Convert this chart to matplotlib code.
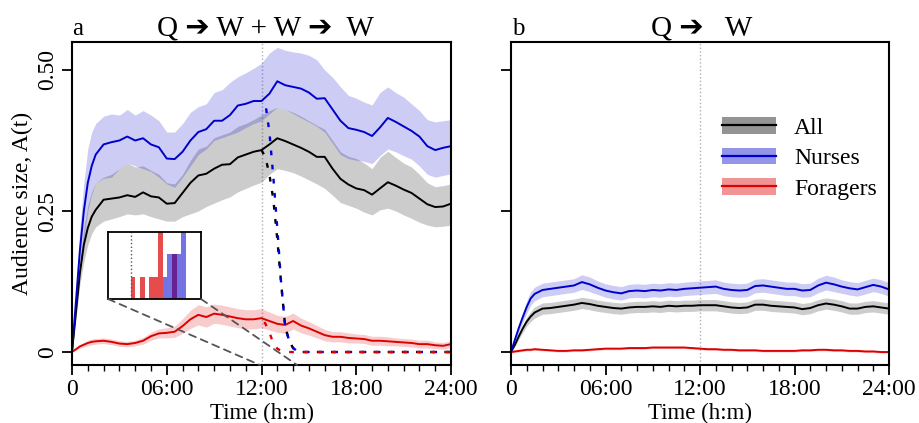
import numpy as np
import matplotlib.pyplot as plt
from matplotlib.patches import Patch, ConnectionPatch
from matplotlib.lines import Line2D
from matplotlib.ticker import MultipleLocator

plt.rcParams['font.family'] = ['Liberation Serif', 'DejaVu Sans']

# time grid (hours)
hours = [0, 0.25, 0.5, 0.75, 1, 1.25, 1.5,
         2, 2.5, 3, 3.5, 4, 4.5, 5, 5.5, 6, 6.5,
         7, 7.5, 8, 8.5, 9, 9.5, 10, 10.5, 11, 11.5,
         12, 12.5, 13, 13.5, 14, 14.5, 15, 15.5, 16, 16.5,
         17, 17.5, 18, 18.5, 19, 19.5, 20, 20.5, 21, 21.5,
         22, 22.5, 23, 23.5, 24]

# panel a : Q -> W + W -> W
all_a = [0, 0.07, 0.14, 0.19, 0.22, 0.24, 0.252,
         0.270, 0.272, 0.274, 0.278, 0.275, 0.283, 0.276, 0.274, 0.263, 0.264,
         0.282, 0.300, 0.313, 0.316, 0.325, 0.332, 0.333, 0.345, 0.350, 0.355,
         0.358, 0.368, 0.379, 0.374, 0.368, 0.362, 0.355, 0.346, 0.346, 0.325,
         0.307, 0.297, 0.290, 0.287, 0.279, 0.290, 0.301, 0.295, 0.288, 0.282,
         0.272, 0.262, 0.257, 0.258, 0.263]
all_a_lo = [0, 0.06, 0.12, 0.16, 0.19, 0.21, 0.222,
            0.232, 0.236, 0.240, 0.245, 0.243, 0.245, 0.240, 0.236, 0.232, 0.232,
            0.240, 0.245, 0.250, 0.258, 0.264, 0.270, 0.275, 0.284, 0.290, 0.296,
            0.301, 0.315, 0.325, 0.322, 0.318, 0.312, 0.305, 0.298, 0.290, 0.278,
            0.265, 0.260, 0.255, 0.248, 0.243, 0.252, 0.255, 0.250, 0.243, 0.237,
            0.230, 0.225, 0.222, 0.223, 0.225]
all_a_hi = [0, 0.08, 0.16, 0.22, 0.26, 0.285, 0.300,
            0.310, 0.315, 0.325, 0.335, 0.328, 0.330, 0.322, 0.315, 0.300, 0.298,
            0.315, 0.340, 0.360, 0.365, 0.380, 0.385, 0.390, 0.400, 0.405, 0.412,
            0.420, 0.428, 0.434, 0.430, 0.425, 0.418, 0.410, 0.402, 0.395, 0.375,
            0.355, 0.347, 0.343, 0.335, 0.325, 0.345, 0.356, 0.345, 0.335, 0.328,
            0.315, 0.300, 0.293, 0.295, 0.298]

nurses_a = [0, 0.09, 0.18, 0.25, 0.30, 0.33, 0.35,
            0.368, 0.372, 0.375, 0.382, 0.375, 0.379, 0.368, 0.363, 0.343, 0.342,
            0.355, 0.375, 0.390, 0.395, 0.410, 0.410, 0.420, 0.437, 0.440, 0.445,
            0.445, 0.458, 0.480, 0.473, 0.470, 0.467, 0.460, 0.449, 0.450, 0.430,
            0.410, 0.397, 0.394, 0.390, 0.383, 0.398, 0.415, 0.408, 0.400, 0.392,
            0.382, 0.365, 0.358, 0.362, 0.365]
nurses_a_lo = [0, 0.07, 0.14, 0.20, 0.25, 0.28, 0.30,
               0.308, 0.310, 0.325, 0.335, 0.330, 0.325, 0.320, 0.310, 0.298, 0.292,
               0.310, 0.330, 0.350, 0.360, 0.375, 0.380, 0.385, 0.390, 0.398, 0.405,
               0.410, 0.422, 0.434, 0.430, 0.423, 0.415, 0.408, 0.400, 0.390, 0.370,
               0.350, 0.343, 0.340, 0.338, 0.334, 0.348, 0.360, 0.355, 0.348, 0.342,
               0.330, 0.315, 0.310, 0.313, 0.316]
nurses_a_hi = [0, 0.11, 0.22, 0.30, 0.36, 0.39, 0.405,
               0.418, 0.422, 0.420, 0.430, 0.420, 0.428, 0.420, 0.410, 0.390, 0.390,
               0.405, 0.425, 0.435, 0.440, 0.460, 0.465, 0.478, 0.488, 0.495, 0.503,
               0.512, 0.530, 0.540, 0.535, 0.532, 0.530, 0.526, 0.518, 0.500, 0.487,
               0.470, 0.455, 0.450, 0.443, 0.438, 0.460, 0.470, 0.460, 0.452, 0.440,
               0.428, 0.412, 0.408, 0.410, 0.412]

foragers_a = [0, 0.005, 0.010, 0.013, 0.016, 0.018, 0.019,
              0.020, 0.018, 0.015, 0.014, 0.016, 0.020, 0.028, 0.033, 0.034, 0.036,
              0.046, 0.058, 0.066, 0.062, 0.068, 0.066, 0.063, 0.060, 0.058, 0.058,
              0.060, 0.055, 0.050, 0.048, 0.055, 0.047, 0.042, 0.036, 0.030, 0.027,
              0.027, 0.025, 0.024, 0.023, 0.020, 0.020, 0.019, 0.018, 0.017, 0.016,
              0.014, 0.014, 0.012, 0.011, 0.014]
foragers_a_err = [0, 0.002, 0.003, 0.004, 0.005, 0.005, 0.005,
                  0.005, 0.005, 0.005, 0.005, 0.005, 0.006, 0.007, 0.008, 0.009, 0.010,
                  0.013, 0.016, 0.018, 0.018, 0.017, 0.017, 0.017, 0.017, 0.017, 0.017,
                  0.017, 0.016, 0.015, 0.015, 0.014, 0.013, 0.012, 0.011, 0.010, 0.009,
                  0.009, 0.009, 0.008, 0.008, 0.008, 0.008, 0.008, 0.007, 0.007, 0.007,
                  0.007, 0.007, 0.006, 0.006, 0.006]

# removal of the focal workers: dashed decay after 12:00
drop_hours = [12, 12.25, 12.5, 12.75, 13, 13.25, 13.5, 13.75, 14, 14.25, 14.5, 24]
all_drop = [0.358, 0.345, 0.315, 0.27, 0.20, 0.12, 0.045, 0.02, 0.007, 0.002, 0, 0]
nurses_drop = [0.445, 0.44, 0.39, 0.31, 0.22, 0.12, 0.045, 0.02, 0.007, 0.002, 0, 0]
foragers_drop = [0.06, 0.05, 0.035, 0.015, 0.006, 0.002, 0, 0, 0, 0, 0, 0]

# inset histogram: 5-min bins starting 12:00
bin_starts = [12 + k / 12 for k in range(12)]
foragers_hist = [1, 0, 1, 0, 1, 1, 3, 0, 0, 2, 0, 0]
nurses_hist = [0, 0, 0, 0, 0, 0, 0, 1, 2, 2, 2, 3]

# panel b : Q -> W
all_b = [0, 0.013, 0.028, 0.042, 0.054, 0.063, 0.070,
         0.077, 0.078, 0.080, 0.082, 0.084, 0.087, 0.085, 0.082, 0.080, 0.078,
         0.077, 0.079, 0.080, 0.080, 0.081, 0.080, 0.082, 0.081, 0.082, 0.082,
         0.083, 0.083, 0.083, 0.081, 0.079, 0.078, 0.079, 0.084, 0.084, 0.082,
         0.081, 0.080, 0.079, 0.076, 0.078, 0.083, 0.086, 0.084, 0.081, 0.077,
         0.077, 0.080, 0.081, 0.079, 0.077]
all_b_err = [0, 0.003, 0.005, 0.007, 0.008, 0.009, 0.010,
             0.010, 0.010, 0.010, 0.010, 0.010, 0.010, 0.010, 0.010, 0.010, 0.010,
             0.010, 0.010, 0.010, 0.010, 0.010, 0.010, 0.010, 0.010, 0.010, 0.010,
             0.010, 0.010, 0.010, 0.010, 0.010, 0.010, 0.010, 0.010, 0.010, 0.010,
             0.010, 0.010, 0.010, 0.010, 0.010, 0.010, 0.010, 0.010, 0.010, 0.010,
             0.010, 0.010, 0.010, 0.010, 0.010]
nurses_b = [0, 0.022, 0.043, 0.062, 0.080, 0.095, 0.103,
            0.110, 0.112, 0.114, 0.116, 0.118, 0.124, 0.120, 0.114, 0.109, 0.106,
            0.104, 0.108, 0.109, 0.108, 0.110, 0.109, 0.111, 0.110, 0.112, 0.113,
            0.114, 0.115, 0.116, 0.112, 0.110, 0.109, 0.110, 0.117, 0.118, 0.116,
            0.114, 0.112, 0.112, 0.109, 0.110, 0.118, 0.123, 0.120, 0.116, 0.113,
            0.111, 0.115, 0.119, 0.116, 0.111]
nurses_b_err = [0, 0.004, 0.007, 0.009, 0.011, 0.012, 0.012,
                0.012, 0.012, 0.012, 0.012, 0.012, 0.013, 0.013, 0.012, 0.012, 0.012,
                0.012, 0.012, 0.012, 0.012, 0.012, 0.012, 0.012, 0.012, 0.012, 0.012,
                0.012, 0.012, 0.012, 0.012, 0.012, 0.012, 0.012, 0.012, 0.012, 0.012,
                0.012, 0.012, 0.012, 0.012, 0.012, 0.013, 0.013, 0.013, 0.012, 0.012,
                0.012, 0.012, 0.012, 0.012, 0.012]
foragers_b = [0, 0.001, 0.002, 0.003, 0.004, 0.004, 0.005,
              0.004, 0.003, 0.002, 0.002, 0.003, 0.003, 0.004, 0.005, 0.006, 0.006,
              0.006, 0.007, 0.007, 0.007, 0.008, 0.008, 0.008, 0.008, 0.008, 0.007,
              0.006, 0.005, 0.005, 0.004, 0.004, 0.003, 0.003, 0.003, 0.002, 0.002,
              0.002, 0.002, 0.002, 0.003, 0.003, 0.004, 0.004, 0.003, 0.003, 0.002,
              0.002, 0.001, 0.001, 0.000, 0.000]
foragers_b_err = [0.002] * len(hours)

time_ticks = [0, 6, 12, 18, 24]
time_labels = ['0', '06:00', '12:00', '18:00', '24:00']
series_names = ['All', 'Nurses', 'Foragers']
series_colors = ['black', '#0000cc', '#dd0000']


def style_axis(ax, ylabels):
    ax.set_xlim(0, 24)
    ax.set_ylim(-0.023, 0.5496)
    ax.set_xticks(time_ticks)
    ax.set_xticklabels(time_labels)
    ax.xaxis.set_minor_locator(MultipleLocator(1))
    ax.set_yticks([0, 0.25, 0.5])
    if ylabels:
        ax.set_yticklabels(['0', '0.25', '0.50'], rotation=90, va='center')
    else:
        ax.set_yticklabels([])
    ax.tick_params(which='major', direction='out', length=7, width=1.3,
                   labelsize=17, pad=3)
    ax.tick_params(which='minor', direction='out', length=4, width=1)
    ax.axvline(12, color='#b0b0b0', ls=':', lw=1, zorder=0)
    ax.set_xlabel('Time (h:m)', fontsize=16.5, labelpad=2)
    for s in ax.spines.values():
        s.set_linewidth(1.5)


fig = plt.figure(figsize=(9.19, 4.23), dpi=100)
ax_a = fig.add_axes([72 / 919, 58 / 423, 379 / 919, 323 / 423])
ax_b = fig.add_axes([511 / 919, 58 / 423, 378 / 919, 323 / 423])

# ---- panel a
ax_a.fill_between(hours, all_a_lo, all_a_hi, color='black', alpha=0.2, lw=0)
ax_a.fill_between(hours, nurses_a_lo, nurses_a_hi, color='#0000cc', alpha=0.2, lw=0)
f_lo = np.array(foragers_a) - np.array(foragers_a_err)
f_hi = np.array(foragers_a) + np.array(foragers_a_err)
ax_a.fill_between(hours, f_lo, f_hi, color='#dd0000', alpha=0.2, lw=0)
ax_a.plot(hours, all_a, color='black', lw=1.4)
ax_a.plot(hours, nurses_a, color='#0000cc', lw=1.4)
ax_a.plot(hours, foragers_a, color='#dd0000', lw=1.4)

ax_a.plot(drop_hours, all_drop, color='black', lw=1.7, ls=(0, (2, 4)))
ax_a.plot(drop_hours, nurses_drop, color='#0000cc', lw=1.7, ls=(2, (2, 4)))
ax_a.plot(drop_hours, foragers_drop, color='#dd0000', lw=1.7, ls=(4, (2, 4)))

style_axis(ax_a, True)
ax_a.set_ylabel('Audience size, A(t)', fontsize=17, labelpad=3)

# inset
ax_in = fig.add_axes([108 / 919, 124 / 423, 93 / 919, 67 / 423])
ax_in.bar(bin_starts, foragers_hist, width=1 / 12, align='edge',
          color='#dd0000', alpha=0.7, lw=0)
ax_in.bar(bin_starts, nurses_hist, width=1 / 12, align='edge',
          color='#0000cc', alpha=0.55, lw=0)
ax_in.axvline(12, color='#555555', ls=':', lw=1)
ax_in.set_xlim(11.584, 13.28)
ax_in.set_ylim(0, 3)
ax_in.set_xticks([])
ax_in.set_yticks([])
for s in ax_in.spines.values():
    s.set_linewidth(1.3)

ylo = ax_a.get_ylim()[0]
for corner, tx in [((0, 0), 11.9), ((1, 0), 14.25)]:
    con = ConnectionPatch(xyA=corner, coordsA=ax_in.transAxes,
                          xyB=(tx, ylo), coordsB=ax_a.transData,
                          color='#555555', lw=1.3, ls=(0, (4, 3)))
    fig.add_artist(con)

# ---- panel b
ax_b.fill_between(hours, np.array(all_b) - all_b_err, np.array(all_b) + all_b_err,
                  color='black', alpha=0.2, lw=0)
ax_b.fill_between(hours, np.array(nurses_b) - nurses_b_err,
                  np.array(nurses_b) + nurses_b_err, color='#0000cc', alpha=0.2, lw=0)
ax_b.fill_between(hours, np.array(foragers_b) - foragers_b_err,
                  np.array(foragers_b) + foragers_b_err, color='#dd0000', alpha=0.2, lw=0)
ax_b.plot(hours, all_b, color='black', lw=1.4)
ax_b.plot(hours, nurses_b, color='#0000cc', lw=1.4)
ax_b.plot(hours, foragers_b, color='#dd0000', lw=1.4)
style_axis(ax_b, False)

handles = [(Patch(facecolor=c, alpha=0.42, edgecolor='none'),
            Line2D([], [], color=c, lw=1.6)) for c in series_colors]
ax_b.legend(handles, series_names, loc='upper left',
            bbox_to_anchor=(722 / 919, 1 - 117 / 423), bbox_transform=fig.transFigure,
            frameon=False, fontsize=17, handlelength=2.3, handletextpad=0.75,
            labelspacing=0.38, borderpad=0, borderaxespad=0)

# titles
fig.text(265 / 919, 1 - 35 / 423, 'Q ➔ W + W ➔  W', fontsize=21,
         ha='center', va='baseline')
fig.text(702 / 919, 1 - 35 / 423, 'Q ➔   W', fontsize=21, ha='center', va='baseline')
fig.text(72 / 919, 1 - 35 / 423, 'a', fontsize=18, ha='left', va='baseline')
fig.text(512 / 919, 1 - 35 / 423, 'b', fontsize=18, ha='left', va='baseline')

fig.savefig('out.png', dpi=100)
